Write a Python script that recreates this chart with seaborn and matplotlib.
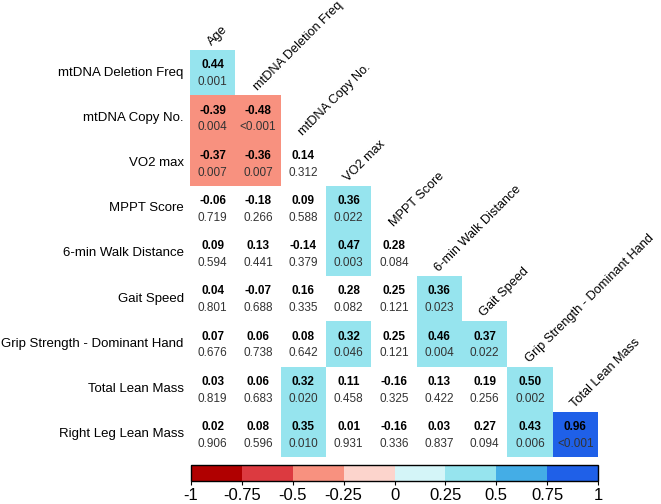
import numpy as np
import pandas as pd
import seaborn as sns
import matplotlib
matplotlib.use("Agg")
import matplotlib.pyplot as plt
from matplotlib.colors import ListedColormap, BoundaryNorm
from matplotlib.cm import ScalarMappable

row_labels = ["mtDNA Deletion Freq", "mtDNA Copy No.", "VO2 max", "MPPT Score",
              "6-min Walk Distance", "Gait Speed", "Grip Strength - Dominant Hand",
              "Total Lean Mass", "Right Leg Lean Mass"]
col_labels = ["Age", "mtDNA Deletion Freq", "mtDNA Copy No.", "VO2 max", "MPPT Score",
              "6-min Walk Distance", "Gait Speed", "Grip Strength - Dominant Hand",
              "Total Lean Mass"]

# correlation coefficients (lower triangle, row by row)
r_rows = [
    [0.44],
    [-0.39, -0.48],
    [-0.37, -0.36, 0.14],
    [-0.06, -0.18, 0.09, 0.36],
    [0.09, 0.13, -0.14, 0.47, 0.28],
    [0.04, -0.07, 0.16, 0.28, 0.25, 0.36],
    [0.07, 0.06, 0.08, 0.32, 0.25, 0.46, 0.37],
    [0.03, 0.06, 0.32, 0.11, -0.16, 0.13, 0.19, 0.50],
    [0.02, 0.08, 0.35, 0.01, -0.16, 0.03, 0.27, 0.43, 0.96],
]
# p-values (0.0005 stands for "<0.001")
p_rows = [
    [0.001],
    [0.004, 0.0005],
    [0.007, 0.007, 0.312],
    [0.719, 0.266, 0.588, 0.022],
    [0.594, 0.441, 0.379, 0.003, 0.084],
    [0.801, 0.688, 0.335, 0.082, 0.121, 0.023],
    [0.676, 0.738, 0.642, 0.046, 0.121, 0.004, 0.022],
    [0.819, 0.683, 0.020, 0.458, 0.325, 0.422, 0.256, 0.002],
    [0.906, 0.596, 0.010, 0.931, 0.336, 0.837, 0.094, 0.006, 0.0005],
]

n = len(row_labels)
R = np.full((n, n), np.nan)
P = np.full((n, n), np.nan)
for i in range(n):
    for j, (rv, pv) in enumerate(zip(r_rows[i], p_rows[i])):
        R[i, j] = rv
        P[i, j] = pv

bounds = [-1, -0.75, -0.5, -0.25, 0, 0.25, 0.5, 0.75, 1]
colors = ["#b00000", "#dc3a40", "#f8917f", "#fcd4cc",
          "#d4f5f8", "#96e4ee", "#44ade6", "#1f60e8"]
cmap = ListedColormap(colors)
norm = BoundaryNorm(bounds, cmap.N)

# colour bins taken as (lo, hi]
C = np.ceil(R * 4) / 4 - 0.125
mask = np.isnan(R) | (P >= 0.05)
dfC = pd.DataFrame(C, index=row_labels, columns=col_labels)

plt.rcParams['font.family'] = ['Liberation Sans', 'DejaVu Sans']
fig = plt.figure(figsize=(6.61, 5.04), dpi=100)
ax = fig.add_axes([0.2874, 0.0933, 0.6173, 0.8075])
sns.heatmap(dfC, mask=mask, cmap=cmap, norm=norm, cbar=False, ax=ax,
            linewidths=0, square=False)

for i in range(n):
    for j in range(n):
        if np.isnan(R[i, j]):
            continue
        ax.text(j + 0.5, i + 0.34, f"{R[i, j]:.2f}", ha="center", va="center",
                fontsize=8.5, fontweight="bold", color="black")
        ptxt = "<0.001" if P[i, j] < 0.001 else f"{P[i, j]:.3f}"
        ax.text(j + 0.5, i + 0.71, ptxt, ha="center", va="center",
                fontsize=8.5, color="#333333")

ax.set_xticks([])
ax.set_yticks(np.arange(n) + 0.5)
ax.set_yticklabels(row_labels, fontsize=9.5, rotation=0)
ax.tick_params(axis="y", length=0, pad=4.5)
ax.set_xlabel("")
ax.set_ylabel("")
for sp in ax.spines.values():
    sp.set_visible(False)

for j, lab in enumerate(col_labels):
    ax.text(j + 0.49, j - 0.09, lab, rotation=45, rotation_mode="anchor",
            ha="left", va="baseline", fontsize=9.2, clip_on=False)

cax = fig.add_axes([0.289, 0.0456, 0.6157, 0.0317])
sm = ScalarMappable(norm=norm, cmap=cmap)
cb = fig.colorbar(sm, cax=cax, orientation="horizontal", ticks=bounds)
cb.ax.set_xticklabels(["-1", "-0.75", "-0.5", "-0.25", "0", "0.25", "0.5", "0.75", "1"])
cb.ax.tick_params(labelsize=12, length=3, direction="out", pad=2)
cb.outline.set_linewidth(1.0)

fig.savefig("out.png", dpi=100)
